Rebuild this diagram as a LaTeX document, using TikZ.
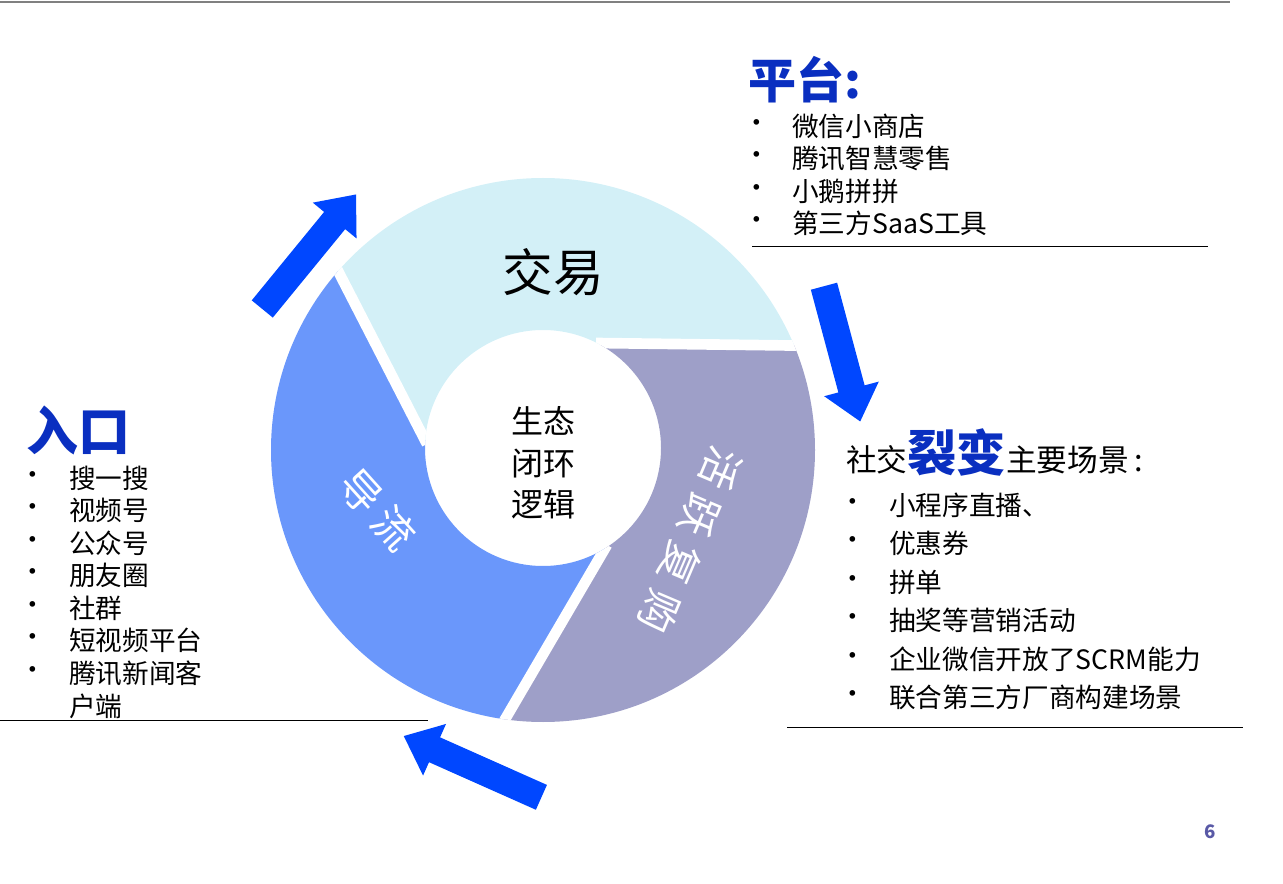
\documentclass[tikz,border=0pt]{standalone}
\usepackage{fontspec}
\setmainfont{Noto Sans CJK SC}
\usetikzlibrary{shapes.arrows}
\definecolor{cyanseg}{HTML}{D3F0F7}
\definecolor{blueseg}{HTML}{6A97FB}
\definecolor{purpseg}{HTML}{9E9FC8}
\definecolor{arrowblue}{HTML}{0047FF}
\definecolor{arrowdark}{HTML}{0030C0}
\definecolor{titleblue}{HTML}{0A2FC0}
\begin{document}
\begin{tikzpicture}[x=0.75pt,y=-0.75pt,
  bigarrow/.style={single arrow, fill=arrowblue, draw=none, inner sep=10pt, single arrow head extend=11pt, single arrow tip angle=80},
  listtext/.style={anchor=west, font=\fontsize{20pt}{24pt}\selectfont, inner sep=0pt},
  bul/.style={anchor=center, font=\fontsize{20pt}{20pt}\selectfont, inner sep=0pt},
  gap/.style={white, line width=8pt},
  ringtext/.style={text=white, font=\fontsize{31pt}{31pt}\selectfont}]
\useasboundingbox (0,0) rectangle (1283,884);
\draw[gray, line width=2pt] (0,2) -- (1230,2);
% clipped fragment at left edge
\begin{scope}
\clip (0,150) rectangle (8,260);
\node[anchor=east, text=cyan!80!blue, font=\bfseries\fontsize{26pt}{26pt}\selectfont] (frag) at (6,216) {号};
\end{scope}
% ring
\begin{scope}[even odd rule]
\clip (543,450) circle[radius=272] (543,448) circle[radius=118];
\fill[cyanseg] (290,178) -- (290,100) -- (900,100) -- (900,345) -- (600,345) -- (543,448) -- (425,440) -- cycle;
\fill[blueseg] (290,178) -- (425,440) -- (543,448) -- (605,548) -- (480,760) -- (200,760) -- (200,178) -- cycle;
\fill[purpseg] (900,345) -- (600,345) -- (543,448) -- (605,548) -- (480,760) -- (900,760) -- cycle;
\draw[gap] (300,197) -- (427,444);
\draw[gap] (596,343) -- (830,346);
\draw[gap] (607,545) -- (490,745);
\end{scope}
\node[font=\fontsize{38pt}{38pt}\selectfont] (jy) at (553,272) {交易};
\node[font=\fontsize{24pt}{31pt}\selectfont, align=center] (core) at (543,463) {生态\\闭环\\逻辑};
\node[ringtext, rotate=-48] (dl) at (378,510) {导\hspace{6pt}流};
\node[ringtext, rotate=-113] (hy) at (690,540) {活\hspace{8pt}跃\hspace{8pt}复\hspace{8pt}购};
% arrows
\node[bigarrow, minimum height=111pt, rotate=50.7] (a1) at (304,258) {};
\node[bigarrow, minimum height=105pt, rotate=-75] (a2) at (840,346) {};
\node[bigarrow, minimum height=113pt, rotate=156] (a3) at (480,770) {};
\draw[arrowdark, line width=3pt] (a1.tail) ++(0,0);
% platform
\node[anchor=west, text=titleblue, font=\bfseries\fontsize{36pt}{36pt}\selectfont, inner sep=0pt] (pt) at (748,80) {平台:};
\foreach \t [count=\i] in {微信小商店,腾讯智慧零售,小鹅拼拼,第三方SaaS工具}{
  \node[bul] (pb\i) at (757,{126+32.5*(\i-1)}) {•};
  \node[listtext] (pl\i) at (792,{126+32.5*(\i-1)}) {\t};
}
\coordinate (pt1) at (752,246); \coordinate (pt2) at (1208,246);
\draw (pt1) -- (pt2);
% social
\node[anchor=west, inner sep=0pt, font=\fontsize{23pt}{23pt}\selectfont] (sj) at (846,452) {社交\textcolor{titleblue}{\bfseries\fontsize{37pt}{37pt}\selectfont 裂变}主要场景\,:};
\foreach \t [count=\i] in {小程序直播、,优惠券,拼单,抽奖等营销活动,企业微信开放了SCRM能力,联合第三方厂商构建场景}{
  \node[bul] (sb\i) at (853,{505+38.5*(\i-1)}) {•};
  \node[listtext] (sl\i) at (889,{505+38.5*(\i-1)}) {\t};
}
\coordinate (st1) at (787,727); \coordinate (st2) at (1243,727);
\draw (st1) -- (st2);
% entry
\node[anchor=west, text=titleblue, font=\bfseries\fontsize{39pt}{39pt}\selectfont, inner sep=0pt] (rk) at (26,430) {入口};
\foreach \t [count=\i] in {搜一搜,视频号,公众号,朋友圈,社群,短视频平台,腾讯新闻客}{
  \node[bul] (eb\i) at (33,{478+32.5*(\i-1)}) {•};
  \node[listtext] (el\i) at (69,{478+32.5*(\i-1)}) {\t};
}
\node[listtext] (el8) at (69,706) {户端};
\coordinate (et1) at (0,720); \coordinate (et2) at (428,720);
\draw (et1) -- (et2);
\node[text=gray!70!blue, font=\bfseries\fontsize{14pt}{14pt}\selectfont] (pg) at (1210,832) {6};
\end{tikzpicture}
\end{document}
